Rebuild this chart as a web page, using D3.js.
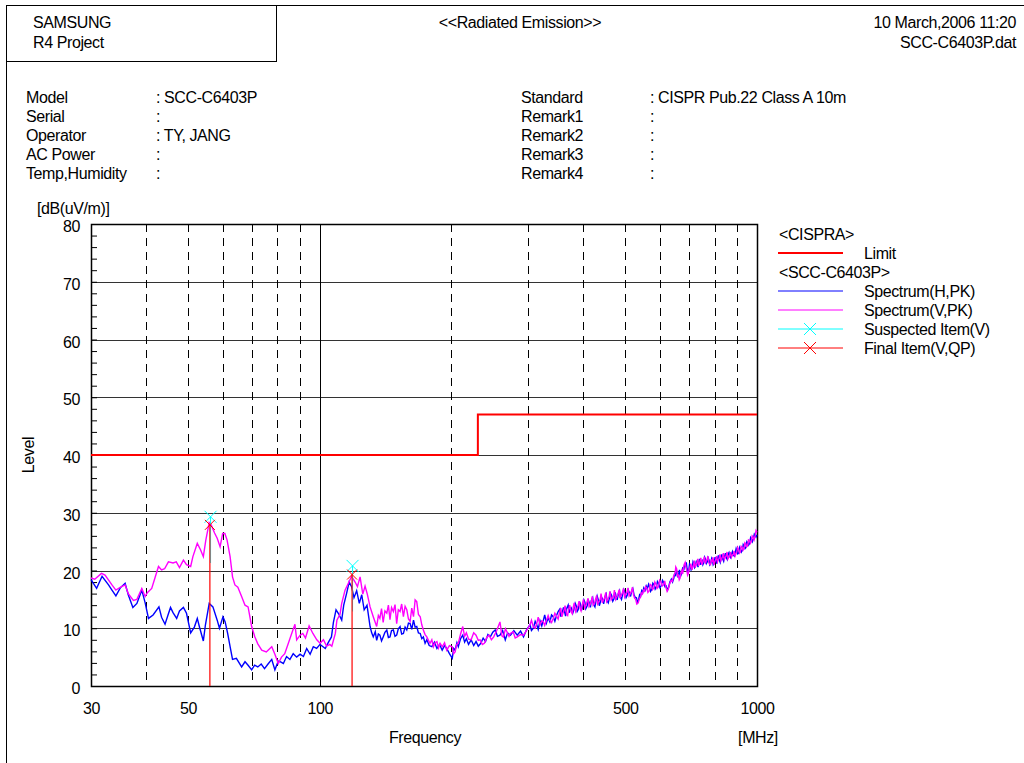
<!DOCTYPE html>
<html>
<head>
<meta charset="utf-8">
<script src="https://cdn.jsdelivr.net/npm/d3@7"></script>
<style>
  body { margin: 0; background: #fff; }
  svg { display: block; }
  text { font-family: "Liberation Sans", Arial, sans-serif; font-size: 16px; fill: #000; letter-spacing: -0.4px; }
  .grid { stroke: #333; stroke-width: 1; shape-rendering: crispEdges; }
  .vgrid { stroke: #000; stroke-width: 1; stroke-dasharray: 8,6; shape-rendering: crispEdges; }
</style>
</head>
<body>
<script>
//-----------DATA ---------------------------//
var headerLeft = ["SAMSUNG", "R4 Project"];
var headerRight = ["10 March,2006 11:20", "SCC-C6403P.dat"];
var infoLabels = ["Model", "Serial", "Operator", "AC Power", "Temp,Humidity"];
var infoValues = [": SCC-C6403P", ":", ": TY, JANG", ":", ":"];
var infoLabels2 = ["Standard", "Remark1", "Remark2", "Remark3", "Remark4"];
var infoValues2 = [": CISPR Pub.22 Class A 10m", ":", ":", ":", ":"];

var yTicks = [0, 10, 20, 30, 40, 50, 60, 70, 80];
var xTickLabels = [30, 50, 100, 500, 1000];
var xGridDashed = [40, 50, 60, 70, 80, 90, 200, 300, 400, 500, 600, 700, 800, 900];

// limit: [MHz, dB]
var limitLine = [[30, 40], [230, 40], [230, 47], [1000, 47]];

// Spectrum(H,PK) [MHz, dB(uV/m)]
var specH = [
  [30,18.4],[30.9,16.9],[31.8,19.0],[32.9,17.5],[33.5,16.6],[34.2,15.6],[35.0,17.0],[35.9,17.8],[36.5,15.8],[37.4,13.6],
  [38.2,14.3],[39.2,16.6],[39.9,14.4],[40.6,11.7],[41.6,12.3],[42.9,13.7],[43.5,11.9],[44.3,10.7],[45.0,12.3],[45.6,13.6],
  [46.2,12.7],[47.1,11.7],[47.8,13.0],[48.8,13.6],[49.6,12.6],[50.7,9.2],[51.7,10.2],[52.5,11.7],[53.2,10.0],[54.2,7.8],
  [54.8,10.6],[55.9,14.3],[57.0,13.7],[58.3,11.4],[59.0,10.0],[60.1,12.0],[60.8,11.1],[61.6,9.1],[62.4,6.8],[63.2,4.6],
  [64.5,4.8],[66.3,3.3],[67.5,4.2],[68.6,3.6],[69.9,2.8],[71.0,3.6],[72.2,3.3],[73.5,3.8],[74.8,3.0],[76.2,3.8],
  [77.7,4.6],[79.0,2.8],[80.4,4.3],[81.2,4.2],[82.6,3.9],[84.0,5.1],[85.5,4.6],[87.0,5.6],[88.6,5.0],[90.2,5.5],
  [91.8,5.1],[93.4,6.5],[95.1,5.5],[96.7,6.8],[98.4,6.5],[100.2,7.2],[103,6.5],[104.6,7.5],[106.4,8.5],[107.5,11.0],
  [109,13.2],[110.5,12.5],[112.3,11.4],[113.5,14.0],[115.2,16.0],[116.8,18.0],[118.3,17.2],[119.8,15.3],[121.5,16.5],[123.2,14.3],
  [124.8,15.8],[126.4,13.2],[128.3,14.0],[130.4,10.3],[131.5,9.2],[132.6,8.5],[134,9.4],[135,7.9],[136.2,9.0],[137.3,8.8],
  [138.5,7.8],[139.7,8.5],[141,9.3],[142.4,9.7],[143.6,8.4],[144.8,8.5],[146,9.6],[147.4,9.7],[148.7,8.6],[150,8.8],
  [151.3,9.9],[152.7,10.3],[154,9.0],[155.4,9.1],[156.8,10.2],[158.2,9.7],[159.6,10.9],[161,10.8],[162.4,9.8],[163.9,11.4],
  [165.3,10.2],[166.7,10.3],[168.2,9.2],[169.8,9.1],[171.2,8.2],[172.6,8.5],[174.2,7.4],[175.8,8.0],[178,7.0],[180.5,6.8],
  [183,7.6],[185.4,6.5],[188,7.2],[190.6,6.2],[193,7.0],[195.2,6.5],[198,5.6],[201,4.8],[202.5,6.5],[204,6.2],
  [206,7.5],[207.5,6.8],[210,8.2],[212.4,8.8],[214.5,7.6],[216.5,8.2],[219,7.2],[222,8.0],[225,7.0],[227.8,7.7],
  [230.5,6.9],[233.6,7.4],[236.5,8.3],[239.5,7.7],[242.5,8.9],[245.6,8.5],[248.8,9.3],[252,9.7],[255,8.6],[258.4,8.8],
  [262,9.6],[265.7,8.0],[269,9.2],[273,8.8],[278,9.6],[283,8.8],[288,9.5],[292.5,8.5],[297,9.7],[302.7,10.6],
  [305,9.6],[308,10.0],[311,11.2],[313.6,10.6],[316,9.8],[319,11.3],[322,10.4],[324.8,11.4],[327,12.3],[330,10.9],
  [333,11.8],[336,11.1],[339,12.3],[342,12.0],[345,11.2],[348,12.2],[351,12.9],
  [354,13.3],[356,12.0],[358,12.5],[361,13.6],[363,12.9],[365,12.1],[367,13.4],[370,14.0],[372,12.7],[374,13.2],
  [376,13.5],[379,12.6],[381,13.1],[384,14.3],[386,13.9],[388,12.9],[390,13.2],[393,14.6],[395,14.1],[397,13.1],
  [399,13.6],[402,14.9],[404,14.5],[406,13.4],[409,13.9],[411,15.0],[414,14.3],[416,13.6],[418,14.8],[421,15.3],
  [423,14.1],[426,13.7],[428,14.6],[431,15.6],[433,15.1],[436,13.9],[438,14.4],[441,15.4],[444,15.0],[446,14.2],
  [449,15.4],[452,15.9],[454,14.8],[457,14.4],[460,15.3],[462,16.1],[465,15.7],[468,14.7],[471,15.1],[474,16.2],
  [476,15.6],[479,14.9],[482,16.0],[485,16.5],[487,15.4],[490,15.0],[493,15.9],[496,16.7],[499,16.2],[502,15.3],
  [505,15.7],[508,16.6],[511,16.1],[514,15.5],[517,16.5],[520,16.9],[523,15.9],[526,15.4],[530,15.3],[533,14.5],
  [536,14.9],[539,15.8],[542,15.6],[545,16.5],[548,16.2],[551,17.0],[555,16.6],[558,17.3],[561,16.8],[565,17.6],
  [568,17.1],[571,16.4],[575,16.8],[578,17.8],[582,17.5],[585,16.8],[589,17.2],[592,18.1],[596,17.7],[600,17.0],
  [604,17.4],[608,18.3],[612,17.9],[616,17.2],[620,17.3],[624,16.6],[628,17.1],[632,18.0],[637,18.5],[641,18.0],
  [645,18.6],[648,19.4],[651,19.2],[653,20.4],[656,19.6],[659,18.8],[662,19.4],[665,20.1],[668,18.9],[671,19.3],
  [674,19.7],[677,20.6],[680,20.0],[683,21.0],[686,20.8],[689,21.4],[692,20.3],[695,19.7],[698,19.9],[701,21.1],
  [704,20.9],[707,20.1],[711,20.4],[714,21.5],[717,21.2],[720,20.5],[723,20.7],[727,21.7],[730,21.1],[733,20.6],
  [736,21.5],[739,22.0],[742,21.0],[746,21.5],[749,21.7],[752,21.0],[756,21.4],[759,22.3],[763,21.9],[766,21.2],
  [770,21.5],[773,22.2],[777,21.8],[780,21.0],[784,21.3],[788,22.1],[791,21.8],[794,21.0],[798,21.3],[802,22.3],
  [806,21.7],[809,21.2],[813,22.1],[816,22.6],[820,21.8],[824,21.4],[828,22.3],[831,22.8],[835,22.0],[839,21.6],
  [843,22.5],[847,23.0],[851,22.2],[855,21.9],[859,22.8],[863,23.1],[867,22.4],[871,22.2],[875,22.9],[879,23.3],
  [884,22.6],[888,22.5],[892,23.1],[896,23.8],[900,23.4],[904,22.9],[909,23.1],[913,24.0],[917,23.7],[921,23.2],
  [926,23.5],[930,24.5],[935,24.2],[939,23.8],[944,24.0],[948,25.0],[953,24.8],[957,24.4],[962,24.7],[967,25.7],
  [972,25.4],[976,25.0],[981,25.5],[986,26.3],[991,26.0],[995,25.8],[1000,26.2]
];

// Spectrum(V,PK) [MHz, dB(uV/m)]
var specV = [
  [30,18.7],[30.6,18.5],[31.7,19.5],[32.3,19.2],[33.5,17.5],[34.2,16.6],[35.0,17.1],[35.9,17.5],[36.5,16.0],[37.5,14.8],
  [38.2,15.0],[39.2,16.9],[39.9,15.5],[40.4,16.2],[41.3,16.9],[42.8,20.7],[43.5,20.1],[44.2,20.3],[45.1,21.5],[46.2,21.3],
  [47.0,21.5],[47.8,20.5],[48.8,21.8],[49.6,21.0],[50.7,20.7],[51.3,22.4],[52.5,24.7],[53.4,23.6],[54.2,22.4],[54.9,25.2],
  [55.9,28.3],[56.5,27.9],[57.5,26.5],[58.3,25.6],[59.2,24.1],[60.0,26.4],[60.7,26.4],[61.4,25.3],[62.4,22.4],[63.2,18.9],
  [64.0,17.5],[65.0,17.1],[66.3,15.5],[67.5,14.0],[68.6,13.7],[69.9,10.3],[71.1,8.5],[72.2,7.3],[73.7,6.2],[75.5,5.9],
  [77.7,6.8],[79.0,5.5],[80.4,3.9],[81.8,5.0],[83.2,5.6],[84.8,7.4],[86.3,9.1],[87.8,10.7],[88.6,8.0],[90.2,8.8],
  [91.5,9.1],[92.8,8.3],[94.6,10.4],[96.5,9.1],[98.5,8.0],[100.2,7.4],[102,8.0],[103.7,6.9],[105.5,7.2],[106.6,6.9],
  [108.6,9.1],[109.5,11.4],[111.3,12.4],[112.3,14.3],[114.3,16.6],[116.3,17.8],[118.3,19.0],[120.5,18.0],[122,17.2],[123.7,18.9],
  [125.5,15.9],[127,17.3],[128.5,15.9],[130.4,13.7],[132.6,12.0],[135,10.3],[136.2,12.2],[137.3,11.7],[138.5,13.4],[139.7,11.0],
  [141,13.0],[142.4,12.6],[143.6,14.0],[144.8,11.5],[146,13.6],[147.4,12.9],[148.7,14.1],[150,10.8],[151.3,13.2],[152.7,12.9],
  [154,14.2],[155.4,12.0],[156.8,13.8],[158.2,13.2],[159.6,11.6],[161,11.2],[162.4,13.5],[163.9,12.0],[165.3,14.9],[166.7,14.6],
  [168.2,12.4],[169.8,12.0],[171.2,10.6],[172.6,9.7],[174.2,8.9],[175.8,8.5],[177.3,7.9],[178.8,7.4],[180.5,8.0],[182,6.8],
  [183.7,7.5],[185.4,7.7],[187,6.6],[188.5,7.4],[190.7,6.8],[193,7.5],[195.2,6.2],[198,7.0],[201,6.8],[202.5,5.6],
  [204,5.9],[205.8,7.2],[207.5,7.4],[210,9.0],[212.4,10.3],[214.5,8.6],[216.5,9.2],[219,8.1],[222,8.0],[225,9.2],
  [227.8,8.8],[230.5,7.9],[232.7,8.0],[235.5,7.2],[238,7.4],[241,8.4],[244,8.8],[247,8.0],[250,8.5],[254,9.6],
  [258.4,11.1],[261,8.7],[263,8.5],[266,9.9],[268,9.4],[271,8.6],[273,9.1],[277,9.4],[280,8.3],[283,8.5],
  [288,8.9],[292.5,8.8],[297,9.6],[302.7,10.6],[305,11.4],[308,10.2],[311,10.0],[313.6,10.8],[316,11.9],[319,10.6],
  [322,11.3],[324.8,11.1],[327,10.5],[330,11.4],[333,12.2],[336,11.4],[339,11.0],[342,11.7],[345,12.6],[348,12.1],[351,11.6],
  [354,12.9],[356,13.5],[358,12.0],[360,12.6],[362,13.1],[364,13.9],[367,12.4],[369,12.2],[371,13.3],[373,14.0],
  [376,12.8],[378,12.5],[380,13.6],[382,14.4],[385,12.9],[387,13.3],[390,14.0],[392,14.7],[394,13.4],[396,13.0],
  [399,14.2],[401,15.0],[404,13.5],[406,13.9],[408,14.4],[411,15.2],[413,13.8],[415,14.1],[418,14.6],[420,15.5],
  [422,14.0],[425,14.3],[427,14.9],[430,15.7],[432,14.2],[435,14.6],[438,15.0],[440,16.0],[443,14.4],[445,14.8],
  [448,15.2],[451,16.2],[453,14.6],[456,15.0],[459,15.5],[461,16.4],[464,14.9],[467,15.2],[470,15.6],[472,16.6],
  [475,15.0],[478,15.4],[481,15.9],[484,16.7],[486,15.2],[489,15.7],[492,16.1],[495,16.9],[498,15.4],[501,15.9],
  [504,16.2],[507,17.0],[510,15.6],[513,16.0],[516,16.3],[519,17.1],[522,15.8],[525,15.2],[528,15.0],[531,14.2],
  [535,14.4],[538,15.1],[541,15.3],[544,16.1],[547,15.9],[550,16.6],[553,16.4],[556,17.2],[560,16.9],[563,16.2],
  [567,16.5],[570,17.6],[574,17.4],[577,16.7],[581,17.0],[584,18.0],[588,17.6],[591,16.9],[595,17.2],[599,18.3],
  [603,18.0],[607,17.3],[611,17.5],[615,18.2],[619,17.1],[623,16.4],[627,16.8],[631,17.6],[636,18.3],[640,18.1],
  [644,18.9],[647,19.3],[650,19.6],[652,20.6],[655,20.3],[658,19.1],[661,19.2],[664,18.4],[667,18.7],[670,19.6],
  [673,20.0],[676,19.4],[679,20.4],[682,21.1],[685,21.4],[688,20.5],[691,20.0],[694,19.2],[697,19.5],[700,20.3],
  [703,20.6],[706,21.2],[710,20.1],[713,20.6],[716,21.0],[719,21.7],[722,20.5],[725,20.9],[729,21.4],[732,22.0],
  [735,20.8],[738,21.2],[741,21.6],[744,22.2],[748,21.0],[751,21.4],[755,21.8],[758,22.4],[762,21.2],[765,21.6],
  [769,21.9],[772,22.5],[776,21.4],[779,21.1],[783,21.0],[786,21.8],[790,21.6],[793,22.3],[797,21.0],[801,21.5],
  [805,21.9],[808,22.5],[812,21.5],[815,21.8],[819,22.1],[823,22.8],[827,21.7],[830,22.0],[834,22.4],[838,23.0],
  [842,21.9],[846,22.2],[850,22.6],[854,23.2],[858,22.0],[862,22.3],[866,22.6],[870,23.2],[874,22.3],[878,22.6],
  [883,22.8],[887,23.4],[891,22.5],[895,22.9],[899,23.2],[903,24.0],[908,23.6],[912,23.0],[916,23.2],[920,24.2],
  [925,24.0],[929,23.5],[934,23.8],[938,24.8],[943,24.6],[947,24.1],[952,24.3],[956,25.3],[961,25.2],[966,24.7],
  [971,25.0],[975,26.0],[980,25.8],[985,25.3],[990,25.9],[995,26.9],[1000,26.6]
];

// suspected items (V) and final items (V,QP)
var suspFreq = [56.3, 118.9];
var suspLevel = [29.3, 20.8];
var suspLow = [21.3, 12.9];
var finalFreq = [56.1, 118.6];
var finalLevel = [27.9, 19.3];

var legendItems = [
  {label: "<CISPRA>", head: true},
  {label: "Limit", color: "#ff0000", w: 2},
  {label: "<SCC-C6403P>", head: true},
  {label: "Spectrum(H,PK)", color: "#0000ff", w: 1},
  {label: "Spectrum(V,PK)", color: "#ff00ff", w: 1},
  {label: "Suspected Item(V)", color: "#00ffff", w: 1, mark: true},
  {label: "Final Item(V,QP)", color: "#ff0000", w: 1, mark: true}
];

//-----------PAGE ---------------------------//
var W = 1024, H = 763;
var svg = d3.select("body").append("svg").attr("width", W).attr("height", H);

// page frame + header box
svg.append("line").attr("x1", 6.5).attr("y1", 5).attr("x2", 6.5).attr("y2", H).attr("stroke", "#000");
svg.append("line").attr("x1", 6).attr("y1", 5.5).attr("x2", W).attr("y2", 5.5).attr("stroke", "#000");
svg.append("rect").attr("x", 6.5).attr("y", 5.5).attr("width", 270).attr("height", 56)
   .attr("fill", "none").attr("stroke", "#000");

svg.selectAll(".hl").data(headerLeft).enter().append("text")
   .attr("x", 33).attr("y", function(d, i) { return 28 + i * 20; }).text(function(d) { return d; });
svg.selectAll(".hr").data(headerRight).enter().append("text")
   .attr("x", 1016).attr("y", function(d, i) { return 28 + i * 20; })
   .style("text-anchor", "end").text(function(d) { return d; });
svg.append("text").attr("x", 520).attr("y", 28).style("text-anchor", "middle").text("<<Radiated Emission>>");

function infoCol(labels, values, x1, x2) {
  labels.forEach(function(l, i) {
    svg.append("text").attr("x", x1).attr("y", 103 + i * 19).text(l);
    svg.append("text").attr("x", x2).attr("y", 103 + i * 19).text(values[i]);
  });
}
infoCol(infoLabels, infoValues, 26, 156);
infoCol(infoLabels2, infoValues2, 521, 650);

//-----------SCALES ---------------------------//
var x = d3.scaleLog().domain([30, 1000]).range([91, 757]);
var y = d3.scaleLinear().domain([0, 80]).range([686, 224]);

var plot = svg.append("g");

// horizontal grid
plot.selectAll(".hg").data(yTicks.filter(function(d) { return d > 0 && d < 80; })).enter()
   .append("line").attr("class", "grid")
   .attr("x1", x(30)).attr("x2", x(1000))
   .attr("y1", function(d) { return Math.round(y(d)) + 0.5; })
   .attr("y2", function(d) { return Math.round(y(d)) + 0.5; });

// vertical grid
plot.selectAll(".vg").data(xGridDashed).enter()
   .append("line").attr("class", "vgrid")
   .attr("x1", function(d) { return Math.round(x(d)) + 0.5; })
   .attr("x2", function(d) { return Math.round(x(d)) + 0.5; })
   .attr("y1", y(80)).attr("y2", y(0));
plot.append("line").attr("class", "grid").style("stroke", "#000")
   .attr("x1", Math.round(x(100)) + 0.5).attr("x2", Math.round(x(100)) + 0.5)
   .attr("y1", y(80)).attr("y2", y(0));

// minor y ticks
plot.append("g")
   .attr("transform", "translate(" + x(30) + ",0)")
   .call(d3.axisLeft(y).tickValues(d3.range(0, 81, 2)).tickSize(-6).tickFormat(""))
   .call(function(g) { g.select(".domain").remove(); g.selectAll("line").attr("stroke", "#000"); });

// frame
plot.append("rect").attr("x", x(30) + 0.5).attr("y", y(80) + 0.5)
   .attr("width", x(1000) - x(30)).attr("height", y(0) - y(80))
   .attr("fill", "none").attr("stroke", "#000").attr("stroke-width", 1.5);

// y labels
svg.selectAll(".yl").data(yTicks).enter().append("text")
   .attr("x", 80).attr("y", function(d) { return y(d) + 8; })
   .style("text-anchor", "end").text(function(d) { return d; });
svg.append("text").attr("x", 37).attr("y", 214).text("[dB(uV/m)]");
svg.append("text").attr("transform", "translate(34,455) rotate(-90)")
   .style("text-anchor", "middle").text("Level");

// x labels
svg.append("g").attr("transform", "translate(0,702)")
   .call(d3.axisBottom(x).tickValues(xTickLabels).tickSize(0).tickFormat(d3.format("d")))
   .call(function(g) {
     g.select(".domain").remove();
     g.selectAll("text").attr("dy", 0).attr("y", 12)
      .style("font-family", "'Liberation Sans', Arial, sans-serif").style("font-size", "16px").attr("fill", "#000");
   });
svg.append("text").attr("x", 425).attr("y", 743).style("text-anchor", "middle").text("Frequency");
svg.append("text").attr("x", 758).attr("y", 743).style("text-anchor", "middle").text("[MHz]");

//-----------DATA LINES ---------------------------//
var line = d3.line().x(function(d) { return x(d[0]); }).y(function(d) { return y(d[1]); });

plot.append("path").datum(specH).attr("d", line)
   .attr("fill", "none").attr("stroke", "#0000ff").attr("stroke-width", 1.4);
plot.append("path").datum(specV).attr("d", line)
   .attr("fill", "none").attr("stroke", "#ff00ff").attr("stroke-width", 1.4);

plot.append("path").datum(limitLine).attr("d", line)
   .attr("fill", "none").attr("stroke", "#ff0000").attr("stroke-width", 2);

function drawX(g, cx, cy, r, color) {
  g.append("line").attr("x1", cx - r).attr("y1", cy - r).attr("x2", cx + r).attr("y2", cy + r).attr("stroke", color);
  g.append("line").attr("x1", cx - r).attr("y1", cy + r).attr("x2", cx + r).attr("y2", cy - r).attr("stroke", color);
}

suspFreq.forEach(function(f, i) {
  plot.append("line").attr("x1", x(f)).attr("x2", x(f))
     .attr("y1", y(suspLevel[i])).attr("y2", y(suspLow[i])).attr("stroke", "#00ffff");
  drawX(plot, x(f), y(suspLevel[i]), 6, "#00ffff");
});
finalFreq.forEach(function(f, i) {
  plot.append("line").attr("x1", x(f)).attr("x2", x(f))
     .attr("y1", y(0)).attr("y2", y(finalLevel[i])).attr("stroke", "#ff0000").attr("stroke-width", 1.2);
  drawX(plot, x(f), y(finalLevel[i]), 5, "#ff0000");
});

//-----------LEGEND ---------------------------//
var lg = svg.append("g");
legendItems.forEach(function(d, i) {
  var yy = 234 + i * 19;
  if (d.head) {
    lg.append("text").attr("x", 779).attr("y", yy + 6).text(d.label);
  } else {
    lg.append("line").attr("x1", 778).attr("x2", 843).attr("y1", yy).attr("y2", yy)
      .attr("stroke", d.color).attr("stroke-width", d.w);
    if (d.mark) drawX(lg, 810, yy, 6, d.color);
    lg.append("text").attr("x", 864).attr("y", yy + 6).text(d.label);
  }
});
</script>
</body>
</html>
